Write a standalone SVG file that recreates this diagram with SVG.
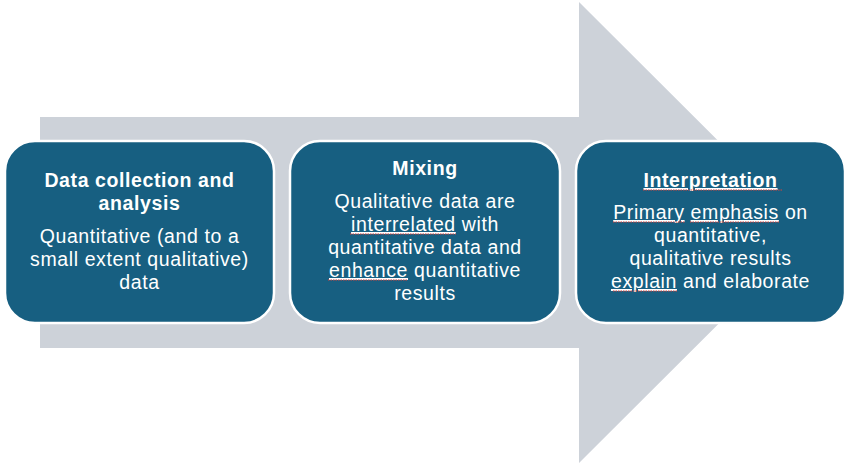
<svg xmlns="http://www.w3.org/2000/svg" width="846" height="465" viewBox="0 0 846 465">
<style>
.box{fill:#175f81;stroke:#ffffff;stroke-width:2.5}
.t{font-family:"Liberation Sans",Arial,sans-serif;font-size:19.5px;letter-spacing:0.6px;fill:#ffffff;text-anchor:middle}
.b{font-weight:bold}
.u{text-decoration:underline}
.sq{stroke:#d9403a;stroke-width:1.2;stroke-dasharray:1.5 1;fill:none}
</style>
<rect width="846" height="465" fill="#ffffff"/>
<g id="arrow">
<path d="M40 117 H579 V2 L810 232.5 L579 463 V348 H40 Z" fill="#cdd2d9"/>
</g>
<g id="connectors"></g>
<g id="node1">
<rect class="box" x="5" y="141" width="269" height="182" rx="30"/>
<text class="t b" x="139.5" y="187">Data collection and</text>
<text class="t b" x="139.5" y="210">analysis</text>
<text class="t" x="139.5" y="243">Quantitative (and to a</text>
<text class="t" x="139.5" y="266">small extent qualitative)</text>
<text class="t" x="139.5" y="289">data</text>
</g>
<g id="node2">
<rect class="box" x="290" y="141" width="270" height="182" rx="30"/>
<text class="t b" x="425" y="175">Mixing</text>
<text class="t" x="425" y="208">Qualitative data are</text>
<text class="t" x="425" y="231"><tspan class="u">interrelated</tspan> with</text>
<text class="t" x="425" y="254">quantitative data and</text>
<text class="t" x="425" y="277"><tspan class="u">enhance</tspan> quantitative</text>
<text class="t" x="425" y="300">results</text>
<path class="sq" d="M350 234 H456 M328 280 H408"/>
</g>
<g id="node3">
<rect class="box" x="576" y="141" width="269" height="182" rx="30"/>
<text class="t b" x="710.5" y="187"><tspan class="u">Interpretation </tspan></text>
<text class="t" x="710.5" y="219"><tspan class="u">Primary</tspan> <tspan class="u">emphasis</tspan> on</text>
<text class="t" x="710.5" y="242">quantitative,</text>
<text class="t" x="710.5" y="265">qualitative results</text>
<text class="t" x="710.5" y="288"><tspan class="u">explain</tspan> and elaborate</text>
<path class="sq" d="M643 190 H783 M613 222 H685 M690 222 H779 M613 291 H678"/>
</g>
</svg>
